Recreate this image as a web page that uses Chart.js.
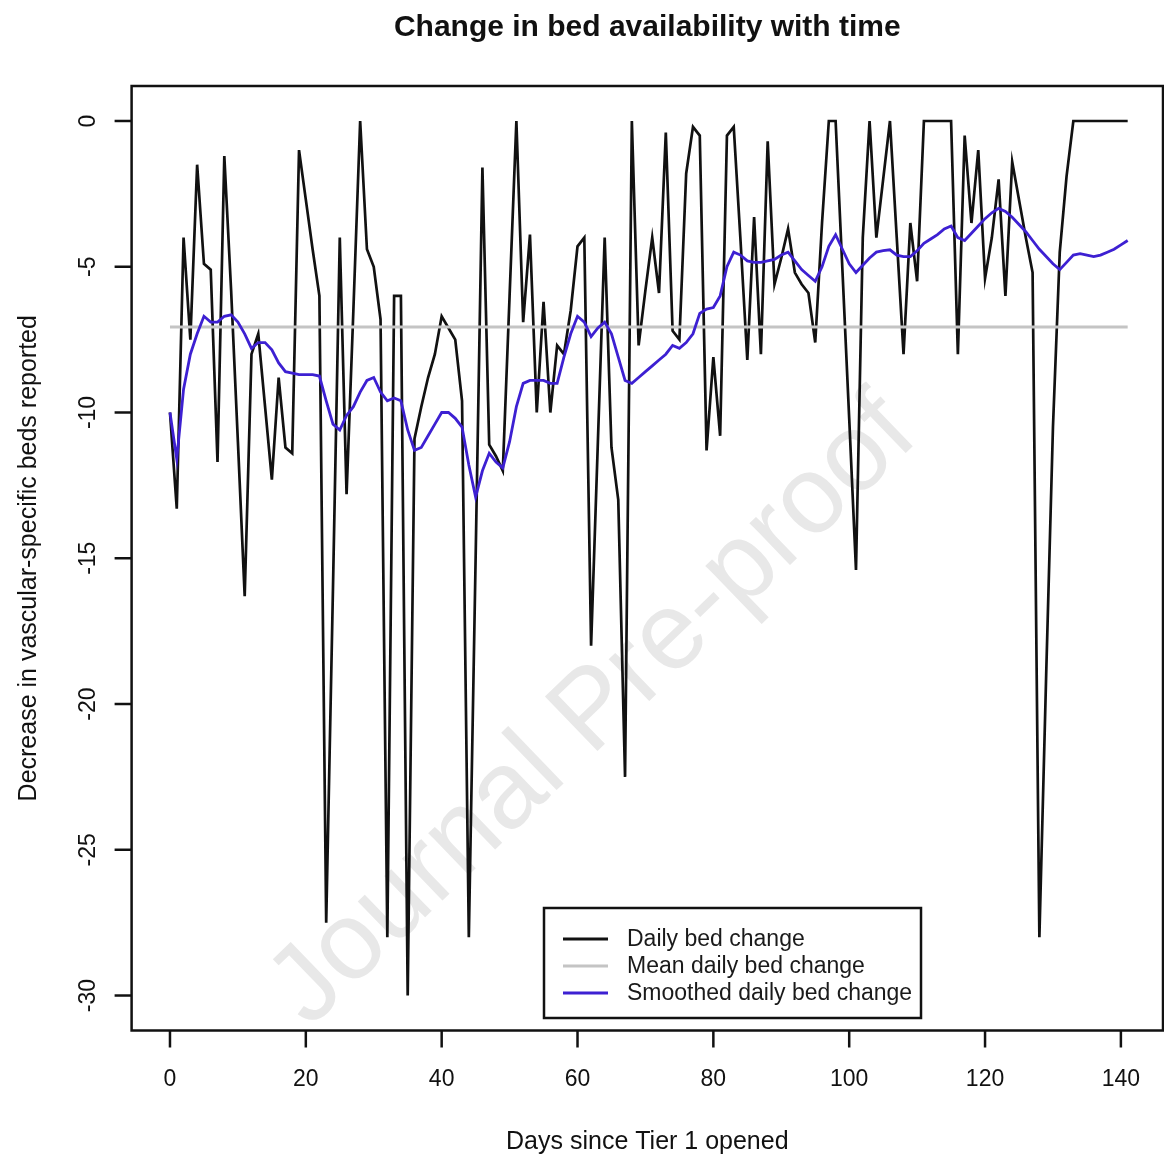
<!DOCTYPE html>
<html>
<head>
<meta charset="utf-8">
<title>Change in bed availability with time</title>
<script src="https://cdn.jsdelivr.net/npm/chart.js@4.4.1/dist/chart.umd.min.js"></script>
<style>
  html, body { margin: 0; padding: 0; background: #fff; }
  #wrap { width: 1164px; height: 1157px; }
</style>
</head>
<body>
<div id="wrap"><canvas id="bedChart" width="1164" height="1157"></canvas></div>
<script>
// Daily change in vascular-specific beds (one value per day 0..141)
const dailyChange = [
    -10.0, -13.3, -4.0, -7.5, -1.5, -4.9, -5.1, -11.7, -1.2, -5.8,
    -11.0, -16.3, -8.0, -7.3, -9.8, -12.3, -8.8, -11.2, -11.4, -1.0,
    -2.7, -4.4, -6.0, -27.5, -16.0, -4.0, -12.8, -6.5, 0, -4.4,
    -5.0, -6.8, -28.0, -6.0, -6.0, -30.0, -10.9, -9.8, -8.8, -8.0,
    -6.7, -7.1, -7.5, -9.6, -28.0, -15.0, -1.6, -11.1, -11.5, -12.0,
    -6.0, 0, -6.9, -3.9, -10.0, -6.2, -10.0, -7.7, -8.0, -6.5,
    -4.3, -4.0, -18.0, -11.0, -4.0, -11.2, -13.0, -22.5, 0, -7.7,
    -5.8, -4.0, -5.9, -0.4, -7.2, -7.5, -1.8, -0.2, -0.5, -11.3,
    -8.1, -10.8, -0.5, -0.2, -4.1, -8.2, -3.3, -8.0, -0.7, -5.6,
    -4.7, -3.7, -5.2, -5.6, -5.9, -7.6, -3.5, 0, 0, -5.1,
    -10.2, -15.4, -4.0, 0, -4.0, -2.0, 0, -4.0, -8.0, -3.5,
    -5.5, 0, 0, 0, 0, 0, -8.0, -0.5, -3.5, -1.0,
    -5.4, -4.0, -2.0, -6.0, -1.4, -2.7, -4.0, -5.2, -28.0, -19.0,
    -10.5, -4.5, -1.9, 0, 0, 0, 0, 0, 0, 0,
    0, 0
];

// Smoothed daily change (blue curve), same days
const smoothedChange = [
    -10.0, -11.6, -9.2, -8.0, -7.3, -6.7, -6.9, -6.9, -6.7, -6.65,
    -6.9, -7.3, -7.8, -7.6, -7.6, -7.85, -8.3, -8.6, -8.65, -8.7,
    -8.7, -8.7, -8.75, -9.6, -10.4, -10.6, -10.1, -9.8, -9.3, -8.9,
    -8.8, -9.3, -9.6, -9.5, -9.6, -10.6, -11.3, -11.2, -10.8, -10.4,
    -10.0, -10.0, -10.2, -10.5, -11.8, -12.9, -12.0, -11.4, -11.7, -11.9,
    -11.0, -9.8, -9.0, -8.9, -8.9, -8.9, -9.0, -9.0, -8.1, -7.3,
    -6.7, -6.9, -7.4, -7.1, -6.9, -7.3, -8.1, -8.9, -9.0, -8.8,
    -8.6, -8.4, -8.2, -8.0, -7.7, -7.8, -7.6, -7.3, -6.6, -6.45,
    -6.4, -6.0, -5.0, -4.5, -4.6, -4.8, -4.85, -4.85, -4.8, -4.75,
    -4.6, -4.5, -4.8, -5.1, -5.3, -5.5, -5.0, -4.3, -3.9, -4.4,
    -4.9, -5.2, -4.95, -4.7, -4.5, -4.45, -4.42, -4.6, -4.65, -4.65,
    -4.45, -4.2, -4.05, -3.9, -3.7, -3.6, -4.0, -4.1, -3.85, -3.6,
    -3.35, -3.15, -3.0, -3.1, -3.3, -3.55, -3.8, -4.1, -4.4, -4.65,
    -4.9, -5.1, -4.85, -4.6, -4.55, -4.6, -4.65, -4.6, -4.5, -4.4,
    -4.25, -4.1
];

const days = dailyChange.map((_, i) => i);
const meanChange = -7.07;
const meanSpan = [0, 141];

const xTicks = [0, 20, 40, 60, 80, 100, 120, 140];
const yTicks = [0, -5, -10, -15, -20, -25, -30];

const titleText = 'Change in bed availability with time';
const xLabel = 'Days since Tier 1 opened';
const yLabel = 'Decrease in vascular-specific beds reported';
const legendLabels = ['Daily bed change', 'Mean daily bed change', 'Smoothed daily bed change'];
const watermark = 'Journal Pre-proof';

const BLACK = '#111111';
const GREY = '#c4c4c4';
const BLUE = '#3d20d2';
const FONT = '"Liberation Sans", Arial, Helvetica, sans-serif';

// R-style frame, axes, labels and legend drawn on top of the chart area
const rStyle = {
    id: 'rStyle',
    beforeDatasetsDraw(chart) {
        const ctx = chart.ctx;
        ctx.save();
        ctx.translate(594, 712);
        ctx.rotate(-44 * Math.PI / 180);
        ctx.font = '110px ' + FONT;
        ctx.fillStyle = '#e8e8e8';
        ctx.textAlign = 'center';
        ctx.textBaseline = 'middle';
        ctx.fillText(watermark, 0, 0);
        ctx.restore();
    },
    afterDraw(chart) {
        const ctx = chart.ctx;
        const area = chart.chartArea;
        const x = chart.scales.x;
        const y = chart.scales.y;
        const midX = (area.left + area.right) / 2;
        const midY = (area.top + area.bottom) / 2;

        ctx.save();
        ctx.strokeStyle = BLACK;
        ctx.fillStyle = BLACK;
        ctx.lineWidth = 2.5;
        ctx.strokeRect(area.left, area.top, area.right - area.left, area.bottom - area.top);

        // x axis ticks
        ctx.font = '23px ' + FONT;
        ctx.textAlign = 'center';
        ctx.textBaseline = 'alphabetic';
        xTicks.forEach(v => {
            const px = x.getPixelForValue(v);
            ctx.beginPath();
            ctx.moveTo(px, area.bottom);
            ctx.lineTo(px, area.bottom + 17);
            ctx.stroke();
            ctx.fillText(String(v), px, 1086);
        });

        // y axis ticks (labels parallel to axis)
        yTicks.forEach(v => {
            const py = y.getPixelForValue(v);
            ctx.beginPath();
            ctx.moveTo(area.left - 17, py);
            ctx.lineTo(area.left, py);
            ctx.stroke();
            ctx.save();
            ctx.translate(95, py);
            ctx.rotate(-Math.PI / 2);
            ctx.fillText(String(v), 0, 0);
            ctx.restore();
        });

        // titles
        ctx.font = 'bold 30px ' + FONT;
        ctx.fillText(titleText, midX, 36);
        ctx.font = '25px ' + FONT;
        ctx.fillText(xLabel, midX, 1149);
        ctx.save();
        ctx.translate(36, midY);
        ctx.rotate(-Math.PI / 2);
        ctx.fillText(yLabel, 0, 0);
        ctx.restore();

        // legend
        ctx.fillStyle = '#ffffff';
        ctx.fillRect(544, 908, 377, 110);
        ctx.strokeStyle = BLACK;
        ctx.lineWidth = 2.5;
        ctx.strokeRect(544, 908, 377, 110);
        const colors = [BLACK, GREY, BLUE];
        const rows = [939, 966, 993];
        ctx.font = '23px ' + FONT;
        ctx.textAlign = 'left';
        ctx.textBaseline = 'middle';
        legendLabels.forEach((label, i) => {
            ctx.strokeStyle = colors[i];
            ctx.lineWidth = 2.8;
            ctx.beginPath();
            ctx.moveTo(563, rows[i]);
            ctx.lineTo(608, rows[i]);
            ctx.stroke();
            ctx.fillStyle = '#1a1a1a';
            ctx.fillText(label, 627, rows[i] + 1);
        });
        ctx.restore();
    }
};

const ctx = document.getElementById('bedChart').getContext('2d');
new Chart(ctx, {
    type: 'line',
    data: {
        datasets: [
            {
                label: legendLabels[2],
                data: days.map(d => ({ x: d, y: smoothedChange[d] })),
                borderColor: BLUE,
                borderWidth: 2.8,
                order: 0
            },
            {
                label: legendLabels[1],
                data: meanSpan.map(d => ({ x: d, y: meanChange })),
                borderColor: GREY,
                borderWidth: 3,
                order: 1
            },
            {
                label: legendLabels[0],
                data: days.map(d => ({ x: d, y: dailyChange[d] })),
                borderColor: BLACK,
                borderWidth: 2.7,
                order: 2
            }
        ]
    },
    options: {
        responsive: false,
        animation: false,
        devicePixelRatio: 1,
        layout: { padding: { left: 131.6, top: 86, right: 1, bottom: 126.5 } },
        elements: {
            point: { radius: 0 },
            line: { tension: 0, fill: false, borderJoinStyle: 'miter' }
        },
        scales: {
            x: { type: 'linear', min: -5.65, max: 146.2, display: false },
            y: { type: 'linear', min: -31.2, max: 1.2, display: false }
        },
        plugins: {
            legend: { display: false },
            title: { display: false },
            tooltip: { enabled: false }
        }
    },
    plugins: [rStyle]
});
</script>
</body>
</html>
